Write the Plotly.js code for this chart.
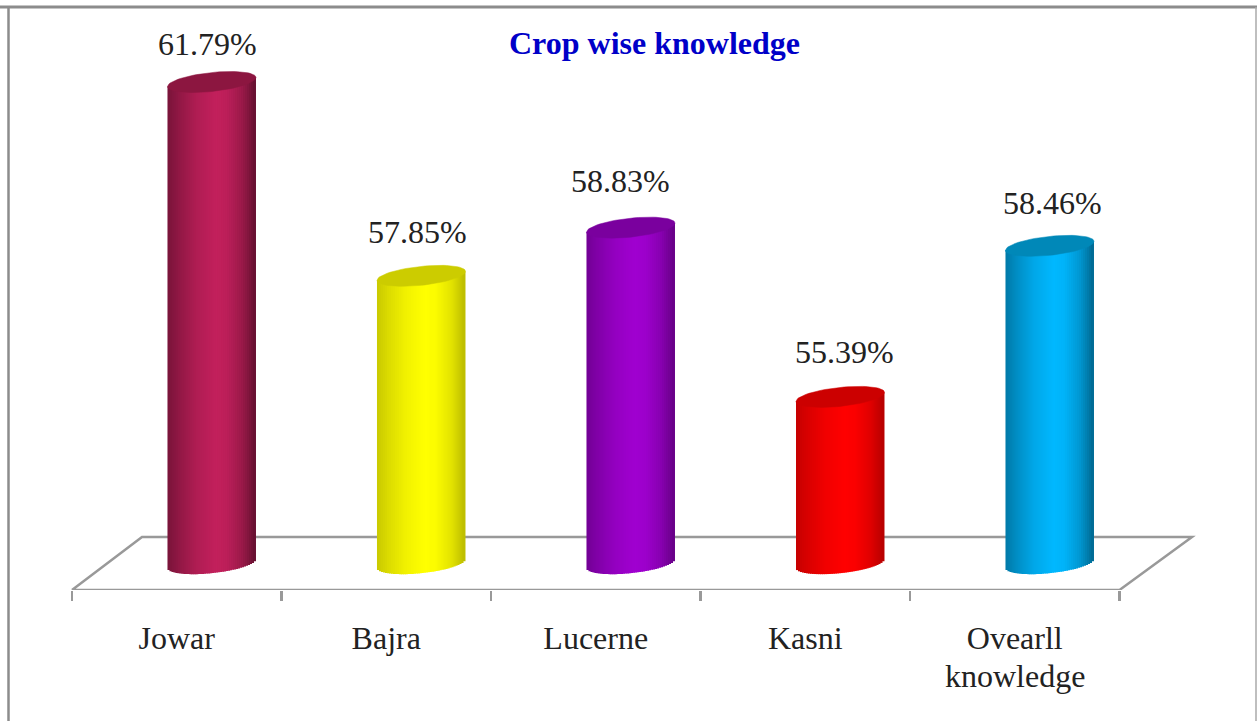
<!DOCTYPE html>
<html>
<head>
<meta charset="utf-8">
<script src="https://cdn.plot.ly/plotly-3.0.1.min.js"></script>
<style>html,body{margin:0;padding:0;background:#fff;overflow:hidden}#chart{width:1257px;height:721px}</style>
</head>
<body>
<div id="chart"></div>
<script>
// Data
const categories = ["Jowar", "Bajra", "Lucerne", "Kasni", "Ovearll<br>knowledge"];
const cropNames = ["Jowar", "Bajra", "Lucerne", "Kasni", "Overall knowledge"];
const values = [61.79, 57.85, 58.83, 55.39, 58.46];

// Styles
const bodyColors = [[194, 32, 92], [255, 255, 0], [160, 0, 208], [255, 0, 0], [0, 184, 255]];
const capColors = ["#8c1640", "#cccc00", "#7a009e", "#cc0000", "#0088b8"];
const edgeDepth = [1, 0.55, 0.75, 0.6, 0.9];
const labelShiftX = [-4, -4, -10, 4, 3];
const labelShiftY = [38, 44, 47, 45, 43];

// Geometry of the drawing
const W = 1257, H = 721, AXIS_PX = 590, LEFT_PX = 72, UNIT_PX = 209.5;
const PX_PER_VALUE = 49.2, TOP_PX = 82, TOP_VALUE = 61.79, BASE_VALUE = 52;
const toValue = px => TOP_VALUE + (TOP_PX - px) / PX_PER_VALUE;
const toX = px => (px - LEFT_PX) / UNIT_PX;
const halfW = 44.25 / UNIT_PX, skew = 4.5 / PX_PER_VALUE, minor = 9.5 / PX_PER_VALUE;
const STRIPS = 44;

function shade(u) {
  const pts = [[-1, .62], [-.75, .74], [-.35, .9], [0.1, 1], [.35, .97], [.7, .8], [.9, .62], [1, .52]];
  for (let i = 1; i < pts.length; i++) {
    if (u <= pts[i][0]) {
      const t = (u - pts[i - 1][0]) / (pts[i][0] - pts[i - 1][0]);
      return pts[i - 1][1] + t * (pts[i][1] - pts[i - 1][1]);
    }
  }
  return .52;
}

const traces = [];
values.forEach((v, c) => {
  const cx = c + 0.667;
  const xs = [], bases = [], heights = [], colors = [];
  for (let k = 0; k < STRIPS; k++) {
    const u = -1 + (2 * k + 1) / STRIPS;
    const f = 1 - (1 - shade(u)) * edgeDepth[c];
    xs.push(cx + u * 43.75 / UNIT_PX);
    const b = BASE_VALUE + skew * u - minor * Math.sqrt(1 - u * u);
    const top = v + skew * u;
    bases.push(b);
    heights.push(top - b);
    colors.push(`rgb(${bodyColors[c].map(n => Math.round(n * f)).join(",")})`);
  }
  traces.push({
    type: "bar", name: cropNames[c], x: xs, y: heights, base: bases,
    width: 3 / UNIT_PX,
    marker: {color: colors, opacity: 1, line: {width: 0}}, hoverinfo: "skip"
  });
  const ex = [], ey = [];
  for (let a = 0; a <= 72; a++) {
    const t = a / 72 * 2 * Math.PI;
    ex.push(cx + halfW * Math.cos(t));
    ey.push(v + skew * Math.cos(t) + minor * Math.sin(t));
  }
  traces.push({
    type: "scatter", mode: "lines", x: ex, y: ey, fill: "toself",
    fillcolor: capColors[c], line: {color: capColors[c], width: 0.5},
    hoverinfo: "skip", showlegend: false
  });
});

const font = {family: "Liberation Serif", size: 32, color: "#222"};
const annotations = values.map((v, c) => ({
  x: c + 0.667, y: v, xref: "x", yref: "y", text: v.toFixed(2) + "%",
  showarrow: false, xanchor: "center", yanchor: "middle",
  xshift: labelShiftX[c], yshift: labelShiftY[c], font
}));
// Second lines of the category labels sit closer than Plotly's tick line spacing allows
categories.forEach((name, i) => {
  const parts = name.split("<br>");
  if (parts[1]) annotations.push({
    x: i + 0.5, xref: "x", y: (AXIS_PX - 676) / AXIS_PX, yref: "paper", text: parts[1],
    showarrow: false, xanchor: "center", yanchor: "middle", font
  });
});

const frame = "#8c8c8c";
const px = p => p / W, py = p => (AXIS_PX - p) / AXIS_PX;
const line = (x0, y0, x1, y1, color, width) => ({
  type: "line", xref: "paper", yref: "paper", layer: "below",
  x0: px(x0), y0: py(y0), x1: px(x1), y1: py(y1), line: {color, width}
});
const fy0 = toValue(AXIS_PX), fy1 = toValue(537);
const floorX = [toX(72), toX(142), toX(1192), toX(1119.5), toX(72)];
const floorY = [fy0, fy1, fy1, fy0, fy0];
const floorPath = floorX.map((x, i) => (i ? "L" : "M") + x + " " + floorY[i]).join(" ");

const layout = {
  width: W, height: H, showlegend: false, barmode: "overlay",
  paper_bgcolor: "#fff", plot_bgcolor: "rgba(0,0,0,0)",
  margin: {l: 0, r: 0, t: 0, b: H - AXIS_PX, pad: 0},
  title: {
    text: "<b>Crop wise knowledge</b>", x: 654.5 / W, xanchor: "center", xref: "container",
    y: 1 - 43 / H, yanchor: "middle", yref: "container",
    font: {family: "Liberation Serif", size: 32, color: "#0000c8"}
  },
  xaxis: {
    range: [toX(0), toX(W)], showgrid: false, zeroline: false, showline: false,
    tickmode: "array", tickvals: categories.map((_, i) => i + 0.5),
    ticktext: categories.map(name => name.split("<br>")[0]),
    ticks: "outside", ticklen: 20, tickwidth: 1, tickcolor: "rgba(0,0,0,0)",
    tickfont: font,
    minor: {
      tickmode: "array", tickvals: [0, 1, 2, 3, 4, 5], ticks: "outside",
      ticklen: 10, tickwidth: 2.5, tickcolor: "#999", showgrid: false
    },
    fixedrange: true
  },
  yaxis: {range: [toValue(AXIS_PX), toValue(0)], visible: false, fixedrange: true},
  shapes: [
    {type: "path", xref: "x", yref: "y", layer: "below", path: floorPath, line: {color: "#999", width: 2.5}},
    line(0, 7, W, 7, frame, 3),
    line(8.5, 6, 8.5, H, frame, 2.5),
    line(1256, 7, 1256, H, "#aaa", 1.5)
  ],
  annotations
};

Plotly.newPlot("chart", traces, layout, {displayModeBar: false, staticPlot: true});
</script>
</body>
</html>
